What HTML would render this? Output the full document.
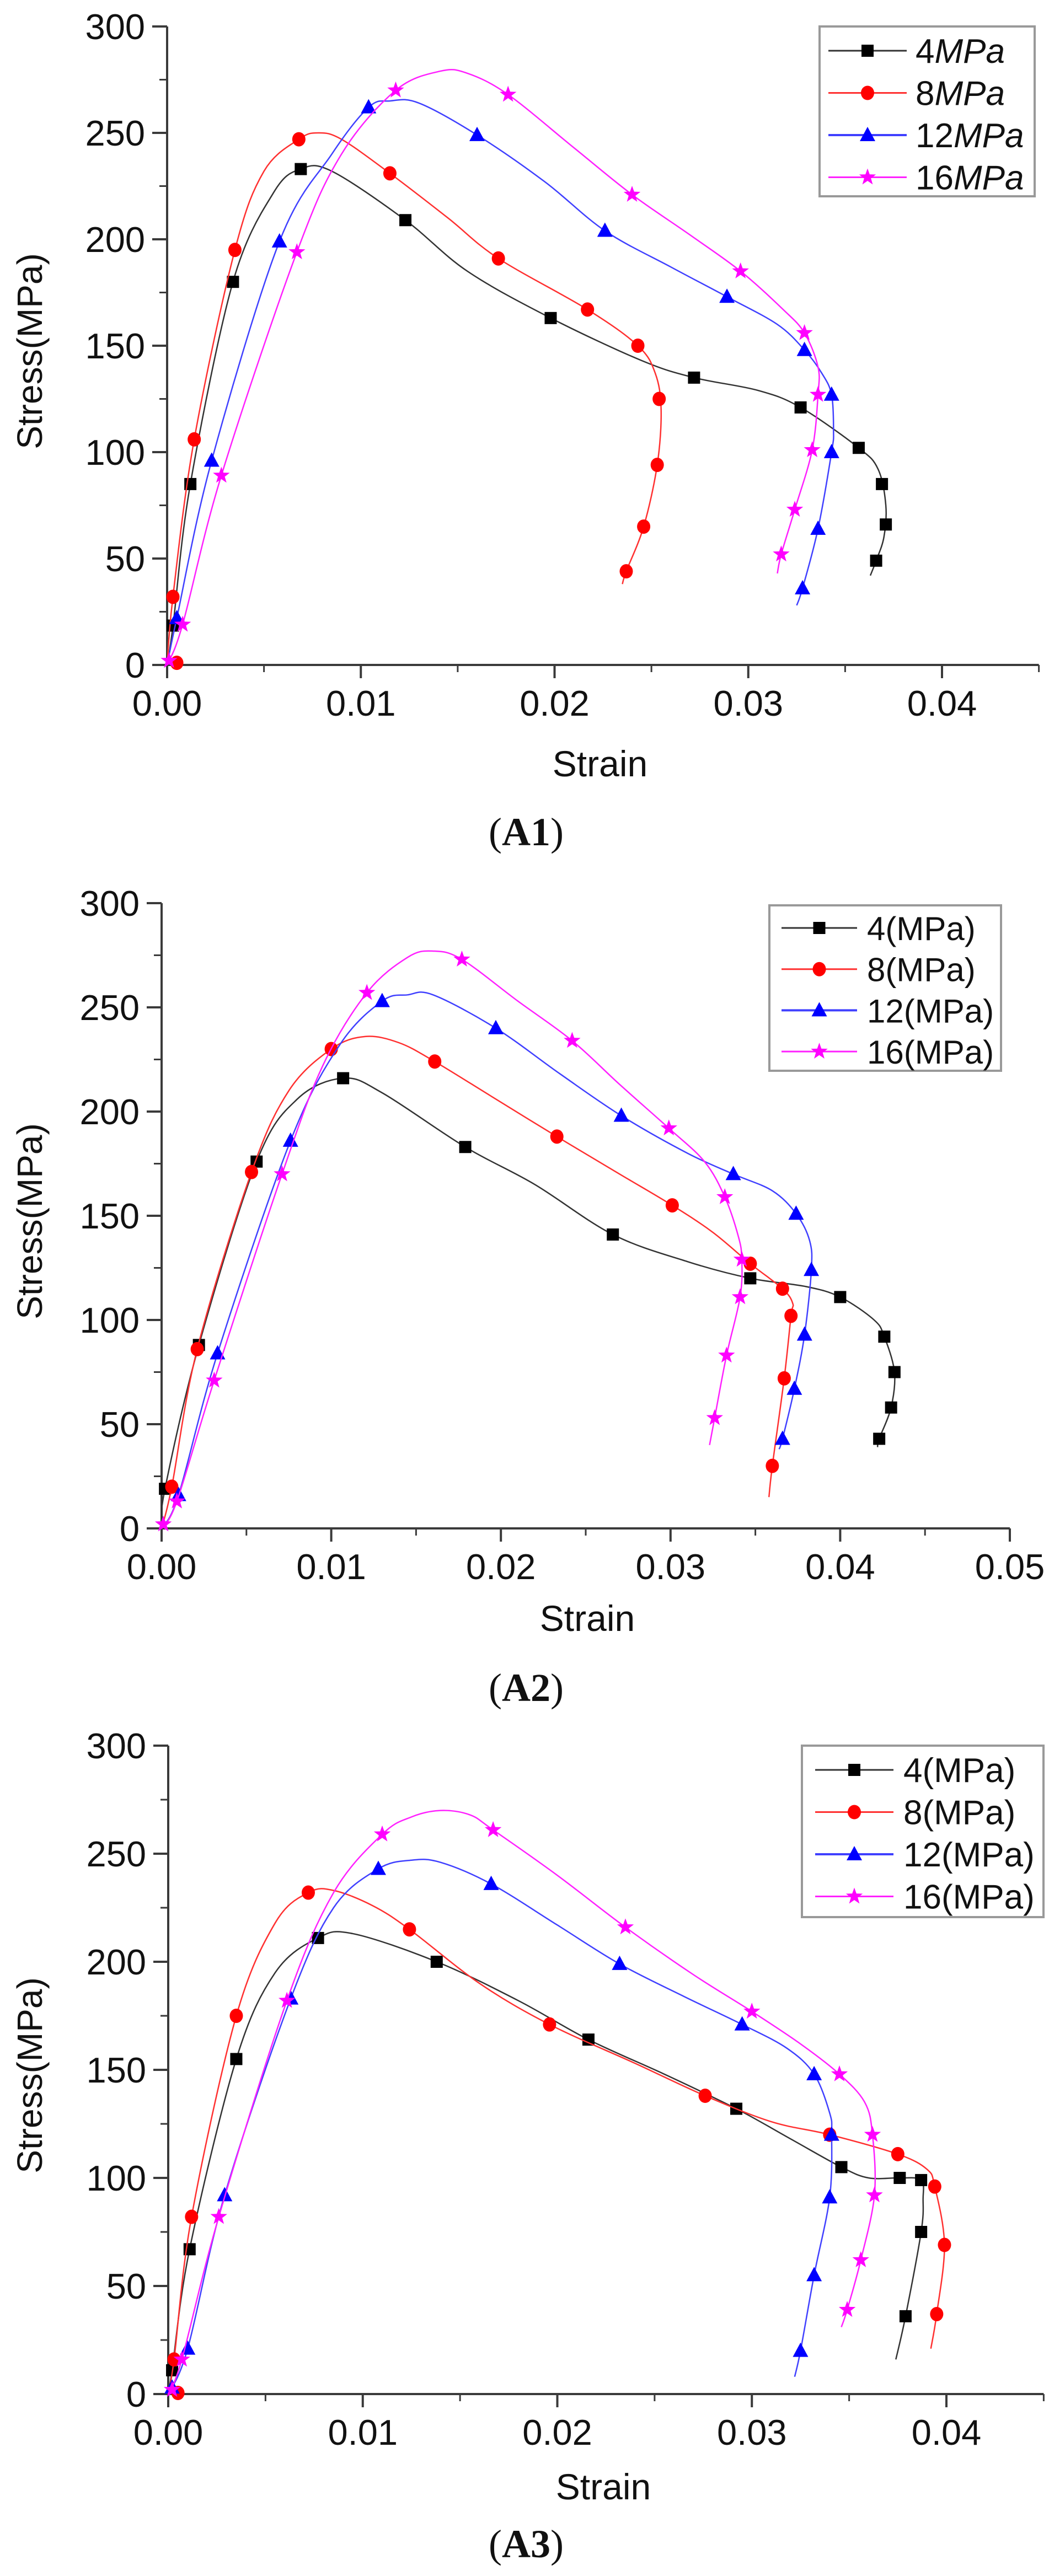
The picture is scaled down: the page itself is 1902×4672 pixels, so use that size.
<!DOCTYPE html>
<html><head><meta charset="utf-8">
<style>
html,body{margin:0;padding:0;background:#fff;}
svg{display:block;}
text{font-family:"Liberation Sans",Arial,sans-serif;fill:#111;}
</style></head>
<body>
<svg id="fig" width="1902" height="4672" viewBox="0 0 1902 4672" xmlns="http://www.w3.org/2000/svg"></svg>
<script>
// ===== Chart A1 data =====
const a1_4_cx=[0,0.0003,0.0012,0.0034,0.0055,0.0069,0.0085,0.0123,0.0155,0.0198,0.0245,0.0272,0.0305,0.0327,0.0357,0.0367,0.0371,0.0370,0.0366,0.0363];
const a1_4_cy=[0,18,85,180,222,233,232,209,185,163,143,135,129,121,102,92,75,60,49,42];
const a1_4_mx=[0.0003,0.0012,0.0034,0.0069,0.0123,0.0198,0.0272,0.0327,0.0357,0.0369,0.0371,0.0366];
const a1_4_my=[18.5,85,180,233,209,163,135,121,102,85,66,49];
const a1_8_cx=[0,0.0003,0.0014,0.0035,0.005,0.0068,0.0078,0.009,0.0115,0.0145,0.0171,0.0217,0.0243,0.0252,0.0255,0.0253,0.0246,0.0237,0.0235];
const a1_8_cy=[0,32,106,195,232,247,250,247,231,210,191,167,150,137,120,94,65,44,38];
const a1_8_mx=[0.0003,0.0005,0.0014,0.0035,0.0068,0.0115,0.0171,0.0217,0.0243,0.0254,0.0253,0.0246,0.0237];
const a1_8_my=[32,1,106,195,247,231,191,167,150,125,94,65,44];
const a1_12_cx=[0,0.0005,0.0023,0.0058,0.0085,0.0104,0.0115,0.013,0.016,0.0195,0.0226,0.026,0.0289,0.0315,0.0329,0.0338,0.0343,0.0344,0.0343,0.0336,0.0328,0.0325];
const a1_12_cy=[0,22,96,199,240,262,265,264,249,227,204,187,173,160,148,137,127,110,100,64,36,28];
const a1_12_mx=[0.0005,0.0023,0.0058,0.0104,0.016,0.0226,0.0289,0.0329,0.0343,0.0343,0.0336,0.0328];
const a1_12_my=[22,96,199,262,249,204,173,148,127,100,64,36];
const a1_16_cx=[0,0.0008,0.0028,0.0067,0.009,0.0118,0.0141,0.0155,0.0176,0.021,0.024,0.027,0.0296,0.0318,0.0329,0.0336,0.0336,0.0333,0.0324,0.0317,0.0315];
const a1_16_cy=[0,19,89,194,240,270,279,278,268,243,221,202,185,167,156,140,127,101,73,52,43];
const a1_16_mx=[0.0001,0.0008,0.0028,0.0067,0.0118,0.0176,0.024,0.0296,0.0329,0.0336,0.0333,0.0324,0.0317];
const a1_16_my=[2,19,89,194,270,268,221,185,156,127,101,73,52];
// ===== Chart A2 data =====
const a2_4_cx=[0,0.0002,0.0022,0.0056,0.008,0.0107,0.013,0.0179,0.022,0.0266,0.031,0.0347,0.038,0.040,0.042,0.0426,0.0432,0.043,0.0423,0.0422];
const a2_4_cy=[0,19,88,176,206,216,209,183,165,141,128,120,116,111,100,92,75,58,43,39];
const a2_4_mx=[0.0002,0.0022,0.0056,0.0107,0.0179,0.0266,0.0347,0.040,0.0426,0.0432,0.043,0.0423];
const a2_4_my=[19,88,176,216,183,141,120,111,92,75,58,43];
const a2_8_cx=[0,0.0006,0.0021,0.0053,0.0075,0.01,0.012,0.014,0.0161,0.0195,0.0233,0.027,0.0301,0.0325,0.0347,0.0366,0.0372,0.0371,0.0367,0.036,0.0358];
const a2_8_cy=[0,20,86,171,210,230,236,233,224,207,188,170,155,142,127,115,108,102,72,30,15];
const a2_8_mx=[0.0006,0.0021,0.0053,0.01,0.0161,0.0233,0.0301,0.0347,0.0366,0.0371,0.0367,0.036];
const a2_8_my=[20,86,171,230,224,188,155,127,115,102,72,30];
const a2_12_cx=[0,0.001,0.0033,0.0076,0.0105,0.013,0.0145,0.016,0.0197,0.0235,0.0271,0.031,0.0337,0.036,0.0374,0.0382,0.0383,0.0379,0.0373,0.0366,0.0364];
const a2_12_cy=[0,16,84,186,232,253,256,256,240,218,198,180,170,162,151,138,124,93,67,43,38];
const a2_12_mx=[0.001,0.0033,0.0076,0.013,0.0197,0.0271,0.0337,0.0374,0.0383,0.0379,0.0373,0.0366];
const a2_12_my=[16,84,186,253,240,198,170,151,124,93,67,43];
const a2_16_cx=[0,0.0009,0.0031,0.0071,0.0095,0.0121,0.0145,0.016,0.0177,0.021,0.0242,0.027,0.0299,0.032,0.0332,0.034,0.0342,0.0341,0.0333,0.0326,0.0323];
const a2_16_cy=[0,13,71,170,222,257,274,277,273,253,234,213,192,176,159,140,129,111,83,53,40];
const a2_16_mx=[0.0001,0.0009,0.0031,0.0071,0.0121,0.0177,0.0242,0.0299,0.0332,0.0342,0.0341,0.0333,0.0326];
const a2_16_my=[2,13,71,170,257,273,234,192,159,129,111,83,53];
// ===== Chart A3 data =====
const a3_4_cx=[0,0.0002,0.0011,0.0035,0.0055,0.0077,0.0095,0.0138,0.018,0.0216,0.0255,0.0292,0.032,0.0346,0.036,0.0376,0.0387,0.0388,0.0387,0.0379,0.0374];
const a3_4_cy=[0,11,67,155,195,211,213,200,182,164,148,132,118,105,100,100,99,90,75,36,16];
const a3_4_mx=[0.0002,0.0011,0.0035,0.0077,0.0138,0.0216,0.0292,0.0346,0.0376,0.0387,0.0387,0.0379];
const a3_4_my=[11,67,155,211,200,164,132,105,100,99,75,36];
const a3_8_cx=[0,0.0003,0.0012,0.0035,0.0055,0.0072,0.0085,0.0105,0.0124,0.016,0.0196,0.024,0.0276,0.031,0.034,0.0375,0.039,0.0394,0.0399,0.0395,0.0392];
const a3_8_cy=[0,16,82,175,218,232,233,226,215,190,171,153,138,126,120,111,104,96,69,37,21];
const a3_8_mx=[0.0003,0.0005,0.0012,0.0035,0.0072,0.0124,0.0196,0.0276,0.034,0.0375,0.0394,0.0399,0.0395];
const a3_8_my=[16,0.5,82,175,232,215,171,138,120,111,96,69,37];
const a3_12_cx=[0,0.001,0.0029,0.0063,0.0085,0.0108,0.0125,0.014,0.0166,0.02,0.0232,0.0265,0.0295,0.0318,0.0332,0.034,0.0341,0.034,0.0332,0.0325,0.0322];
const a3_12_cy=[0,21,92,183,225,243,247,246,236,217,199,184,171,160,148,130,120,91,55,20,8];
const a3_12_mx=[0.0002,0.001,0.0029,0.0063,0.0108,0.0166,0.0232,0.0295,0.0332,0.0341,0.034,0.0332,0.0325];
const a3_12_my=[3,21,92,183,243,236,199,171,148,120,91,55,20];
const a3_16_cx=[0,0.0007,0.0026,0.0061,0.0085,0.011,0.0125,0.014,0.0155,0.0167,0.02,0.0235,0.027,0.030,0.0325,0.0345,0.0358,0.0362,0.0363,0.0356,0.0349,0.0346];
const a3_16_cy=[0,16,82,182,232,259,267,270,268,261,240,216,194,177,162,148,135,120,92,62,39,31];
const a3_16_mx=[0.0002,0.0007,0.0026,0.0061,0.011,0.0167,0.0235,0.030,0.0345,0.0362,0.0363,0.0356,0.0349];
const a3_16_my=[2,16,82,182,259,261,216,177,148,120,92,62,39];

const yTicks=[0,50,100,150,200,250,300];
const xTicksA1=["0.00","0.01","0.02","0.03","0.04"];
const xTicksA2=["0.00","0.01","0.02","0.03","0.04","0.05"];
const legendA1=["4","8","12","16"];

const NS="http://www.w3.org/2000/svg";
const svg=document.getElementById('fig');
function mk(tag,attrs,parent){const e=document.createElementNS(NS,tag);for(const k in attrs)e.setAttribute(k,attrs[k]);(parent||svg).appendChild(e);return e;}

function smooth(pts){
  let d=`M${pts[0][0]},${pts[0][1]}`;
  for(let i=0;i<pts.length-1;i++){
    const p0=pts[Math.max(i-1,0)],p1=pts[i],p2=pts[i+1],p3=pts[Math.min(i+2,pts.length-1)];
    const t=6;
    d+=` C${p1[0]+(p2[0]-p0[0])/t},${p1[1]+(p2[1]-p0[1])/t} ${p2[0]-(p3[0]-p1[0])/t},${p2[1]-(p3[1]-p1[1])/t} ${p2[0]},${p2[1]}`;
  }
  return d;
}
function marker(type,x,y,color,g){
  let e;
  if(type==='sq'){e=mk('rect',{x:x-11,y:y-11,width:22,height:22,fill:color},g);}
  else if(type==='ci'){e=mk('ellipse',{cx:x,cy:y,rx:12,ry:13,fill:color},g);}
  else if(type==='tr'){e=mk('polygon',{points:`${x},${y-15} ${x+14},${y+11} ${x-14},${y+11}`,fill:color},g);}
  else{let p=[];for(let k=0;k<10;k++){const r=k%2?6.5:16;const a=-Math.PI/2+k*Math.PI/5;p.push(`${x+r*Math.cos(a)},${y+r*Math.sin(a)}`);}e=mk('polygon',{points:p.join(' '),fill:color},g);}
  return e;
}

function chart(cfg){
  const g=mk('g',{});
  
  
  const X=v=>cfg.x0+v*cfg.xs, Y=v=>cfg.y0-v*cfg.ys;
  const xEnd=X(cfg.xmax);
  const ax='#3a3a3a';
  const yAx=mk('line',{x1:cfg.x0,y1:Y(300),x2:cfg.x0,y2:cfg.y0+24,stroke:ax,'stroke-width':4},g);
  
  
  const xAx=mk('line',{x1:cfg.x0-27,y1:cfg.y0,x2:xEnd,y2:cfg.y0,stroke:ax,'stroke-width':4},g);
  
  
  yTicks.forEach((v,i)=>{
    mk('line',{x1:cfg.x0-27,y1:Y(v),x2:cfg.x0,y2:Y(v),stroke:ax,'stroke-width':4},g);
    if(v<300) mk('line',{x1:cfg.x0-14,y1:Y(v+25),x2:cfg.x0,y2:Y(v+25),stroke:ax,'stroke-width':3},g);
    const t=mk('text',{x:cfg.x0-40,y:Y(v)+23,'text-anchor':'end','font-size':65},g);
    t.textContent=String(v);
    
    
  });
  cfg.xt.forEach((lab,i)=>{
    const v=parseFloat(lab);
    mk('line',{x1:X(v),y1:cfg.y0,x2:X(v),y2:cfg.y0+24,stroke:ax,'stroke-width':4},g);
    if(v+0.005<=cfg.xmax+1e-9) mk('line',{x1:X(v+0.005),y1:cfg.y0,x2:X(v+0.005),y2:cfg.y0+13,stroke:ax,'stroke-width':3},g);
    const t=mk('text',{x:X(v),y:cfg.y0+92,'text-anchor':'middle','font-size':65},g);
    t.textContent=lab;
    
    
  });
  const yt=mk('text',{x:0,y:0,'text-anchor':'middle','font-size':64,transform:`translate(76,${(Y(300)+cfg.y0)/2+10}) rotate(-90)`},g);
  yt.textContent='Stress(MPa)';
  
  
  const xt=mk('text',{x:cfg.sx,y:cfg.y0+cfg.sdy,'text-anchor':'middle','font-size':66},g);
  xt.textContent='Strain';
  
  
  const cap=mk('text',{x:954,y:cfg.y0+cfg.cdy,'text-anchor':'middle','font-size':72,style:'font-family:"Liberation Serif",serif'},g);
  cap.innerHTML='(<tspan font-weight="bold">'+cfg.cap+'</tspan>)';
  
  
  const colors=['#000000','#ff0000','#0000ff','#ff00ff'];
  const lineCols=['#333333','#ff3030','#4040ff','#ff20ff'];
  const mks=['sq','ci','tr','st'];
  cfg.series.forEach((s,si)=>{
    const sg=mk('g',{},g);
    
    
    const pts=s.cx.map((v,i)=>[X(v),Y(s.cy[i])]);
    const p=mk('path',{d:smooth(pts),fill:'none',stroke:lineCols[si],'stroke-width':2.5},sg);
    
    
    s.mx.forEach((v,i)=>{
      const m=marker(mks[si],X(v),Y(s.my[i]),colors[si],sg);
      
      
    });
  });
  const L=cfg.leg;
  const lg=mk('g',{},g);
  
  
  mk('rect',{x:L.x,y:L.y,width:L.w,height:L.h,fill:'#fff',stroke:'#999','stroke-width':4},lg);
  legendA1.forEach((lab,i)=>{
    const ry=L.y+L.r0+i*L.dr;
    const e=mk('g',{},lg);
    
    
    mk('line',{x1:L.lx1,y1:ry,x2:L.lx2,y2:ry,stroke:lineCols[i],'stroke-width':i==2?4:3},e);
    marker(mks[i],(L.lx1+L.lx2)/2,ry,colors[i],e);
    const t=mk('text',{x:L.tx,y:ry+22,'font-size':L.fs},e);
    if(cfg.italic) t.innerHTML=lab+'<tspan font-style="italic">MPa</tspan>';
    else t.textContent=lab+'(MPa)';
  });
}

chart({name:'chart-a1',cap:'A1',x0:303,xs:35125,xmax:0.045,y0:1206,ys:(1206-48)/300,xt:xTicksA1,italic:true,sx:1088,sdy:202,cdy:327,
  leg:{x:1486,y:48,w:390,h:308,r0:44,dr:76.5,lx1:1502,lx2:1644,tx:1660,fs:62},
  series:[{cx:a1_4_cx,cy:a1_4_cy,mx:a1_4_mx,my:a1_4_my},{cx:a1_8_cx,cy:a1_8_cy,mx:a1_8_mx,my:a1_8_my},{cx:a1_12_cx,cy:a1_12_cy,mx:a1_12_mx,my:a1_12_my},{cx:a1_16_cx,cy:a1_16_cy,mx:a1_16_mx,my:a1_16_my}]});
chart({name:'chart-a2',cap:'A2',x0:293,xs:30760,xmax:0.05,y0:2772,ys:(2772-1638)/300,xt:xTicksA2,italic:false,sx:1065,sdy:186,cdy:313,
  leg:{x:1395,y:1642,w:420,h:300,r0:41,dr:74.7,lx1:1417,lx2:1554,tx:1572,fs:60},
  series:[{cx:a2_4_cx,cy:a2_4_cy,mx:a2_4_mx,my:a2_4_my},{cx:a2_8_cx,cy:a2_8_cy,mx:a2_8_mx,my:a2_8_my},{cx:a2_12_cx,cy:a2_12_cy,mx:a2_12_mx,my:a2_12_my},{cx:a2_16_cx,cy:a2_16_cy,mx:a2_16_mx,my:a2_16_my}]});
chart({name:'chart-a3',cap:'A3',x0:305,xs:35275,xmax:0.045,y0:4342,ys:(4342-3166)/300,xt:xTicksA1,italic:false,sx:1094,sdy:191,cdy:296,
  leg:{x:1454,y:3166,w:438,h:311,r0:44,dr:76.5,lx1:1478,lx2:1620,tx:1638,fs:62},
  series:[{cx:a3_4_cx,cy:a3_4_cy,mx:a3_4_mx,my:a3_4_my},{cx:a3_8_cx,cy:a3_8_cy,mx:a3_8_mx,my:a3_8_my},{cx:a3_12_cx,cy:a3_12_cy,mx:a3_12_mx,my:a3_12_my},{cx:a3_16_cx,cy:a3_16_cy,mx:a3_16_mx,my:a3_16_my}]});
</script>
</body></html>
